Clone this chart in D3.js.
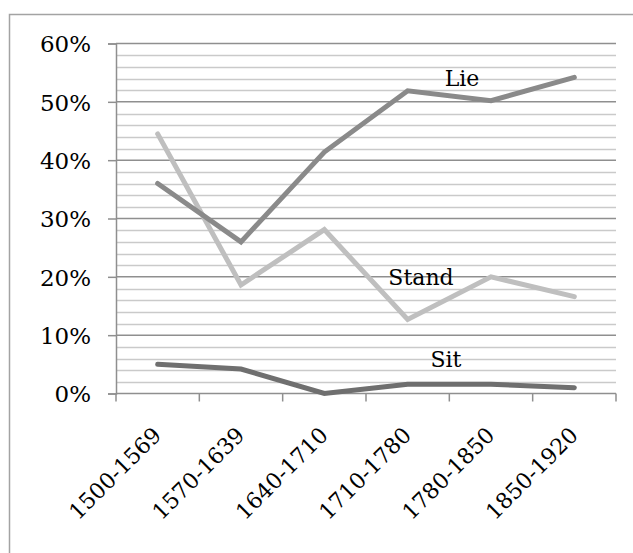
<!DOCTYPE html>
<html><head><meta charset="utf-8">
<script src="https://cdn.jsdelivr.net/npm/d3@7"></script>
<style>html,body{margin:0;padding:0;background:#fff;}svg{display:block;}</style>
</head><body>
<svg id="c" width="633" height="553"></svg>
<script>
const categories = ["1500-1569","1570-1639","1640-1710","1710-1780","1780-1850","1850-1920"];
const lieValues = [36.0, 26.0, 41.4, 51.9, 50.2, 54.2];
const standValues = [44.5, 18.6, 28.1, 12.7, 20.0, 16.6];
const sitValues = [5.0, 4.2, 0.0, 1.6, 1.6, 1.0];
const yTicks = [0, 10, 20, 30, 40, 50, 60];
const seriesNames = ["Lie", "Stand", "Sit"];

const svg = d3.select("#c");
const font = "'DejaVu Serif', serif";

// outer frame
svg.append("rect").attr("x", 9.5).attr("y", 14.5).attr("width", 640).attr("height", 560)
  .attr("fill", "none").attr("stroke", "#a3a3a3").attr("stroke-width", 1.5);

const L = 116, R = 616, T = 43.5, B = 393.5;
const x = d3.scaleBand().domain(categories).range([L, R]).padding(0);
const y = d3.scaleLinear().domain([0, 60]).range([B, T]);

// minor gridlines
const minor = d3.range(2, 60, 2).filter(v => v % 10 !== 0);
svg.append("g").selectAll("line").data(minor).join("line")
  .attr("x1", L).attr("x2", R).attr("y1", d => Math.round(y(d)) + 0.5).attr("y2", d => Math.round(y(d)) + 0.5)
  .attr("stroke", "#cacaca").attr("stroke-width", 1.3);

// y axis with major gridlines
const yAxis = svg.append("g").attr("transform", `translate(${L},0)`)
  .call(d3.axisLeft(y).tickValues(yTicks).tickSize(8).tickFormat(d => d + "%"));
yAxis.select(".domain").attr("stroke", "#8f8f8f").attr("stroke-width", 1.5);
yAxis.selectAll(".tick line").attr("stroke", "#8f8f8f").attr("stroke-width", 1.5);
yAxis.selectAll(".tick text").attr("font-family", font).attr("font-size", 23).attr("fill", "#000").attr("x", -25).attr("dy", "0.36em");
svg.append("g").selectAll("line").data(yTicks.filter(v => v > 0)).join("line")
  .attr("x1", L).attr("x2", R).attr("y1", d => y(d)).attr("y2", d => y(d))
  .attr("stroke", "#8f8f8f").attr("stroke-width", 1.5);

// x axis
const bounds = categories.map(c => x(c)).concat([R]);
svg.append("line").attr("x1", L).attr("x2", R).attr("y1", B).attr("y2", B).attr("stroke", "#8f8f8f").attr("stroke-width", 1.5);
svg.append("g").selectAll("line").data(bounds).join("line")
  .attr("x1", d => d).attr("x2", d => d).attr("y1", B).attr("y2", B + 8)
  .attr("stroke", "#8f8f8f").attr("stroke-width", 1.5);
svg.append("g").selectAll("text").data(categories).join("text")
  .attr("transform", d => `translate(${x(d) + x.bandwidth() / 2 + 5},${B + 43}) rotate(-45)`)
  .attr("text-anchor", "end").attr("font-family", font).attr("font-size", 22).attr("fill", "#000")
  .text(d => d);

// lines
const line = d3.line().x((d, i) => x(categories[i]) + x.bandwidth() / 2).y(d => y(d));
const series = [
  { name: "Sit", values: sitValues, color: "#6f6f6f" },
  { name: "Stand", values: standValues, color: "#bfbfbf" },
  { name: "Lie", values: lieValues, color: "#8a8a8a" }
];
series.forEach(s => {
  svg.append("path").datum(s.values).attr("d", line)
    .attr("fill", "none").attr("stroke", s.color).attr("stroke-width", 5)
    .attr("stroke-linecap", "round").attr("stroke-linejoin", "miter");
});

// labels
const labels = [
  { text: seriesNames[0], cx: 462, val: 52.8 },
  { text: seriesNames[1], cx: 421, val: 18.6 },
  { text: seriesNames[2], cx: 446, val: 4.5 }
];
svg.append("g").selectAll("text").data(labels).join("text")
  .attr("x", d => d.cx).attr("y", d => y(d.val))
  .attr("text-anchor", "middle").attr("font-family", font).attr("font-size", 22).attr("fill", "#000")
  .text(d => d.text);
</script>
</body></html>
